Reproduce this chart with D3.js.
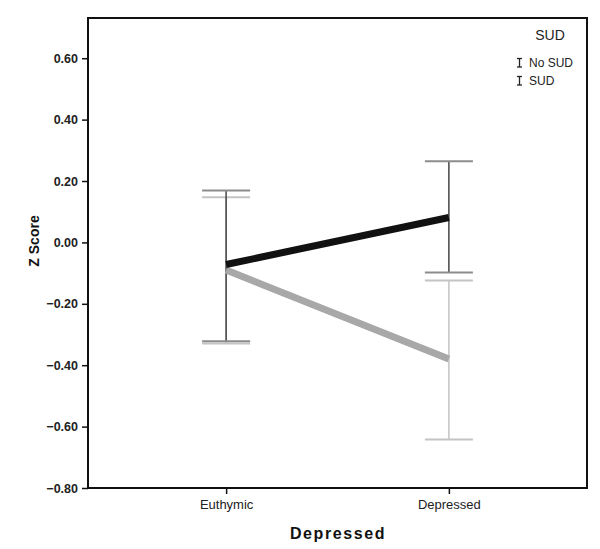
<!DOCTYPE html>
<html><head><meta charset="utf-8">
<script src="https://cdn.jsdelivr.net/npm/d3@7"></script>
<style>body{margin:0;background:#fff}text{font-family:"Liberation Sans",Arial,sans-serif}</style>
</head><body><svg id="c" width="600" height="549"></svg>
<script>
const categories = ["Euthymic", "Depressed"];
const seriesNames = ["No SUD", "SUD"];
const noSudMean = [-0.072, 0.081];
const noSudUpper = [0.169, 0.264];
const noSudLower = [-0.322, -0.098];
const sudMean = [-0.09, -0.38];
const sudUpper = [0.147, -0.124];
const sudLower = [-0.329, -0.642];
const yTicks = [0.6, 0.4, 0.2, 0.0, -0.2, -0.4, -0.6, -0.8];

const svg = d3.select("#c");
const L = 88, R = 587, T = 18, B = 488;
const y = d3.scaleLinear().domain([-0.8, 0.731]).range([B, T]);
const x = d3.scalePoint().domain(categories).range([L, R]).padding(0.62);

// frame
svg.append("rect").attr("x", L).attr("y", T).attr("width", R - L).attr("height", B - T)
  .attr("fill", "none").attr("stroke", "#111").attr("stroke-width", 2);

// y axis
const ya = svg.append("g").attr("transform", `translate(${L},0)`)
  .call(d3.axisLeft(y).tickValues(yTicks).tickFormat(d3.format(".2f")).tickSize(6).tickPadding(4));
ya.select(".domain").remove();
ya.selectAll("line").attr("stroke", "#111").attr("stroke-width", 1.5);
ya.selectAll("text").attr("font-size", 12.5).attr("font-weight", "bold").attr("fill", "#222");

// x axis
const xa = svg.append("g").attr("transform", `translate(0,${B})`)
  .call(d3.axisBottom(x).tickSize(6).tickPadding(6));
xa.select(".domain").remove();
xa.selectAll("line").attr("stroke", "#111").attr("stroke-width", 1.5);
xa.selectAll("text").attr("font-size", 13).attr("fill", "#222");

// titles
svg.append("text").attr("transform", "translate(39,241) rotate(-90)").attr("text-anchor", "middle")
  .attr("font-size", 14).attr("font-weight", "bold").attr("fill", "#111").text("Z Score");
svg.append("text").attr("x", 338).attr("y", 539).attr("text-anchor", "middle")
  .attr("font-size", 16).attr("font-weight", "bold").attr("letter-spacing", 1.6).attr("fill", "#111").text("Depressed");

// error bars
function errbars(upper, lower, lineColor, capColor) {
  const g = svg.append("g");
  categories.forEach((c, i) => {
    const cx = x(c);
    g.append("line").attr("x1", cx).attr("x2", cx).attr("y1", y(upper[i])).attr("y2", y(lower[i]))
      .attr("stroke", lineColor).attr("stroke-width", 1.5);
    [upper[i], lower[i]].forEach(v => {
      g.append("line").attr("x1", cx - 24).attr("x2", cx + 24).attr("y1", y(v)).attr("y2", y(v))
        .attr("stroke", capColor).attr("stroke-width", 2);
    });
  });
}
errbars(sudUpper, sudLower, "#c4c4c4", "#c4c4c4");
errbars(noSudUpper, noSudLower, "#444", "#8c8c8c");

// lines
const line = d3.line().x((d, i) => x(categories[i])).y(d => y(d));
svg.append("path").datum(sudMean).attr("d", line).attr("fill", "none")
  .attr("stroke", "#a8a8a8").attr("stroke-width", 7);
svg.append("path").datum(noSudMean).attr("d", line).attr("fill", "none")
  .attr("stroke", "#111").attr("stroke-width", 7);

// legend
svg.append("text").attr("x", 550).attr("y", 40).attr("text-anchor", "middle")
  .attr("font-size", 14).attr("fill", "#222").text("SUD");
seriesNames.forEach((n, i) => {
  const ly = 67 + i * 18;
  const g = svg.append("g").attr("stroke", "#222").attr("stroke-width", 1.3);
  g.append("line").attr("x1", 519.5).attr("x2", 519.5).attr("y1", ly - 8.5).attr("y2", ly);
  g.append("line").attr("x1", 517).attr("x2", 522).attr("y1", ly - 8.5).attr("y2", ly - 8.5);
  g.append("line").attr("x1", 517).attr("x2", 522).attr("y1", ly).attr("y2", ly);
  svg.append("text").attr("x", 529).attr("y", ly).attr("font-size", 12).attr("fill", "#222").text(n);
});
</script></body></html>
